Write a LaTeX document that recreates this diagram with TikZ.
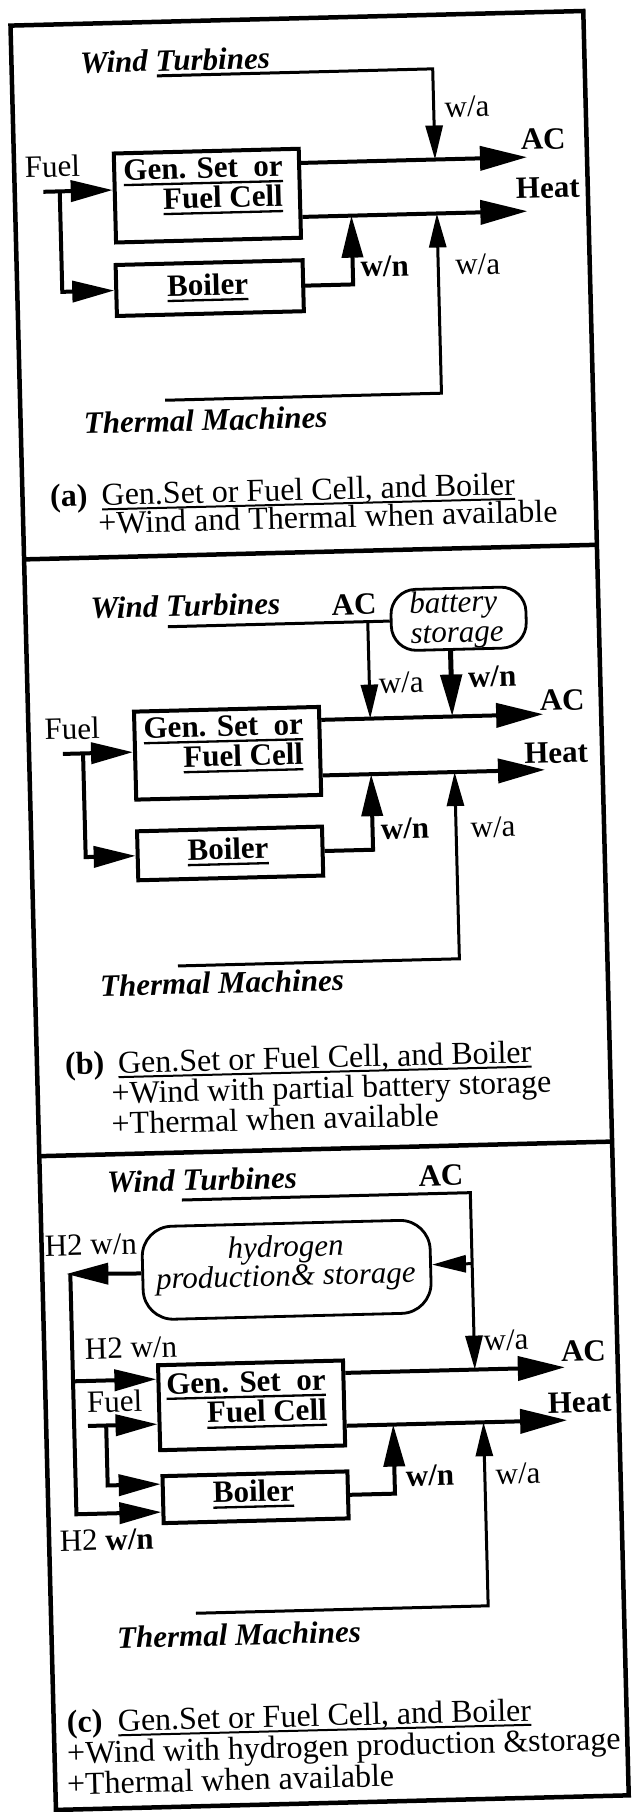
\documentclass[tikz,border=0pt]{standalone}
\usepackage{fontspec}
\setmainfont{Liberation Serif}
\usetikzlibrary{arrows.meta}
\newcommand\fs{\fontsize{31}{33}\selectfont}
\newcommand\fcap{\fontsize{32}{34}\selectfont}
\newcommand\uln[1]{\setbox0\hbox{#1}\rlap{\rule[-6pt]{\wd0}{2.3pt}}\box0}
\newcommand\ulc[1]{\setbox0\hbox{#1}\rlap{\rule[-5pt]{\wd0}{2pt}}\box0}
\newcommand\capblock[2]{\vtop{\baselineskip=#1\lineskiplimit=-100pt\lineskip=0pt #2}}
\begin{document}
\begin{tikzpicture}[x=1pt,y=-1pt,
  lbl/.style={inner sep=0pt, font=\fs},
  lblb/.style={inner sep=0pt, font=\fs\bfseries},
  ttl/.style={inner sep=0pt, font=\fs\bfseries\itshape, anchor=base west},
  captxt/.style={inner sep=0pt, font=\fcap, anchor=base west},
  bx/.style={draw, line width=4pt, inner sep=0pt, anchor=north west, minimum width=185pt},
  rbx/.style={draw, line width=2.8pt, inner sep=0pt, anchor=north west},
  frm/.style={line width=4.5pt},
  mainln/.style={line width=4pt},
  thinln/.style={line width=3pt},
  bigtip/.style={-{Triangle[length=47pt,width=24pt]}},
  midtip/.style={-{Triangle[length=42pt,width=21pt]}},
  smalltip/.style={-{Triangle[length=34pt,width=17pt]}}]
\fill[white] (0,0) rectangle (637,1812);
\useasboundingbox (0,0) rectangle (637,1812);
\begin{scope}[rotate around={1.46:(318,906)}, transform shape]
% frame
\draw[frm] (33,18) rectangle (606,1803);
\draw[frm] (33,552) -- (606,552);
\draw[frm] (33,1149) -- (606,1149);

% ---------------- (a)
\node[bx, minimum height=89pt] (GA) at (131,146.5) {};
\node[bx, minimum width=187pt, minimum height=51pt] (BA) at (130,258) {};
\node[lblb, anchor=base west] (GA1) at (142,175.5) {\uln{Gen. Set~~or}};
\node[lblb, anchor=base west] (GA2) at (181,205.5) {\uln{Fuel Cell}};
\node[lblb, anchor=base] (BAt) at (223.5,292.5) {\uln{Boiler}};
\node[ttl] (WTa) at (101.5,67.5) {Wind Turbines};
\node[ttl] (TMa) at (96,428) {Thermal Machines};
\node[lbl, anchor=base west] (FUa) at (43.6,170.2) {Fuel};
\node[lblb] (ACa) at (562.6,145.2) {AC};
\node[lblb] (HTa) at (566,194.2) {Heat};
\node[lbl] (WAa1) at (487.4,110.7) {w/a};
\node[lblb] (WNa) at (401,268) {w/n};
\node[lbl] (WAa2) at (494,268.6) {w/a};
\node[captxt] (CAa) at (60.4,500) {\capblock{28pt}{%
  \hbox{\makebox[51.6pt][l]{\bfseries (a)}\ulc{Gen.Set or Fuel Cell, and Boiler}}%
  \hbox{\hspace*{47.6pt}+Wind and Thermal when available}}};
\coordinate (wa0) at (178,72);
\coordinate (wa1) at (454,72);
\coordinate (acA) at (546,162.7);
\coordinate (htA) at (545,216.7);
\coordinate (fuA) at (61.6,185);
\coordinate (fbA) at (78,185);
\coordinate (boA) at (369,216.7);
\coordinate (thA0) at (178,396.5);
\coordinate (thA1) at (454.5,216.7);
\draw[mainln,bigtip] (GA.east |- acA) -- (acA);
\draw[mainln,bigtip] (GA.east |- htA) -- (htA);
\draw[thinln,smalltip] (wa0) -- (wa1) -- (wa1 |- acA);
\draw[mainln,midtip] (fuA) -- (fuA -| GA.west);
\draw[mainln,midtip] (fbA) |- (BA.west);
\draw[mainln,midtip] (BA.east) -| (boA);
\draw[thinln,smalltip] (thA0) -| (thA1);

% ---------------- (b)
\node[bx, minimum height=88pt] (GB) at (137,705) {};
\node[bx, minimum height=49pt] (BB) at (137,824.7) {};
\node[rbx, rounded corners=25pt, minimum width=135pt, minimum height=61pt] (BAT) at (397,590.5) {};
\node[lblb, anchor=base west] (GB1) at (148,734) {\uln{Gen. Set~~or}};
\node[lblb, anchor=base west] (GB2) at (187,764) {\uln{Fuel Cell}};
\node[lblb, anchor=base] (BBt) at (229.5,857) {\uln{Boiler}};
\node[lbl, font=\fs\itshape, anchor=base] (BATt1) at (461,615.8) {battery};
\node[lbl, font=\fs\itshape, anchor=base] (BATt2) at (464,645.8) {storage};
\node[ttl] (WTb) at (98,613) {Wind Turbines};
\node[ttl] (TMb) at (98,991) {Thermal Machines};
\node[lblb] (ACb0) at (361.7,605.4) {AC};
\node[lbl, anchor=base west] (FUb) at (49,733) {Fuel};
\node[lblb] (ACb) at (567.3,706.2) {AC};
\node[lblb] (HTb) at (560,759) {Heat};
\node[lbl] (WAb1) at (406.8,684.7) {w/a};
\node[lblb] (WNb1) at (498,681) {w/n};
\node[lblb] (WNb2) at (407,831) {w/n};
\node[lbl] (WAb2) at (495,831.5) {w/a};
\node[captxt] (CAb) at (61,1068) {\capblock{30.35pt}{%
  \hbox{\makebox[53pt][l]{\bfseries (b)}\ulc{Gen.Set or Fuel Cell, and Boiler}}%
  \hbox{\hspace*{45.7pt}+Wind with partial battery storage}%
  \hbox{\hspace*{45pt}+Thermal when available}}};
\coordinate (wb0) at (175,623);
\coordinate (wb1) at (375,623);
\coordinate (acB) at (548,720);
\coordinate (htB) at (548.4,775.6);
\coordinate (wnB) at (457,720);
\coordinate (fuB) at (66.9,747.5);
\coordinate (fbB) at (87,747.5);
\coordinate (boB) at (374.5,775.6);
\coordinate (thB0) at (176.5,962.4);
\coordinate (thB1) at (458,775.6);
\draw[thinln] (wb0) -- (wb0 -| BAT.west);
\draw[thinln,smalltip] (wb1) -- (wb1 |- acB);
\draw[line width=5pt,midtip] (BAT.south -| wnB) -- (wnB);
\draw[mainln,bigtip] (GB.east |- acB) -- (acB);
\draw[mainln,bigtip] (GB.east |- htB) -- (htB);
\draw[mainln,midtip] (fuB) -- (fuB -| GB.west);
\draw[mainln,midtip] (fbB) |- (BB.west);
\draw[mainln,midtip] (BB.east) -| (boB);
\draw[thinln,smalltip] (thB0) -| (thB1);

% ---------------- (c)
\node[rbx, rounded corners=30pt, minimum width=288pt, minimum height=93pt] (HB) at (132,1221) {};
\node[bx, minimum height=85pt] (GC) at (144.4,1359) {};
\node[bx, minimum height=47pt] (BC) at (146,1470) {};
\node[lblb, anchor=base west] (GC1) at (154,1390) {\uln{Gen. Set~~or}};
\node[lblb, anchor=base west] (GC2) at (194,1420) {\uln{Fuel Cell}};
\node[lblb, anchor=base] (BCt) at (238.5,1500) {\uln{Boiler}};
\node[lbl, font=\fs\itshape, anchor=base] (HBt1) at (277,1256) {hydrogen};
\node[lbl, font=\fs\itshape, anchor=base] (HBt2) at (276.5,1285) {production\& storage};
\node[ttl] (WTc) at (100,1187.4) {Wind Turbines};
\node[ttl] (TMc) at (98.4,1643) {Thermal Machines};
\node[lblb] (ACc0) at (434,1178.7) {AC};
\node[lbl, anchor=base west] (H2a) at (36,1249) {H2 w/n};
\node[lbl, anchor=base west] (H2b) at (73.5,1353) {H2 w/n};
\node[lbl, anchor=base west] (FUc) at (74.3,1406.5) {Fuel};
\node[lbl, anchor=base west] (H2c) at (43.5,1544.6) {H2 \textbf{w/n}};
\node[lblb] (ACc) at (572,1357.8) {AC};
\node[lblb] (HTc) at (567,1408.8) {Heat};
\node[lbl] (WAc1) at (495,1344.8) {w/a};
\node[lblb] (WNc) at (415.5,1478.5) {w/n};
\node[lbl] (WAc2) at (503.6,1478.4) {w/a};
\node[captxt] (CAc) at (46,1726) {\capblock{31pt}{%
  \hbox{\makebox[51pt][l]{\bfseries (c)}\ulc{Gen.Set or Fuel Cell, and Boiler}}%
  \hbox{\hspace*{-0.5pt}+Wind with hydrogen production \&storage}%
  \hbox{\hspace*{-1.5pt}+Thermal when available}}};
\coordinate (wc0) at (174.5,1196.5);
\coordinate (wc1) at (463,1196.5);
\coordinate (wc3) at (463,1267.5);
\coordinate (acC) at (553,1373.5);
\coordinate (htC) at (554,1426.4);
\coordinate (h2a) at (57,1267.5);
\coordinate (h2v) at (61,1267.5);
\coordinate (h2b) at (61,1375);
\coordinate (h2c) at (61,1508);
\coordinate (fuC) at (74.8,1420);
\coordinate (fbC) at (93,1420);
\coordinate (fbC2) at (93,1480);
\coordinate (boC) at (380,1426.4);
\coordinate (thC0) at (178,1610);
\coordinate (thC1) at (470.3,1426.4);
\draw[thinln,smalltip] (wc0) -- (wc1) -- (wc1 |- acC);
\draw[thinln,smalltip] (wc3) -- (wc3 -| HB.east);
\draw[mainln,midtip] (HB.west) -- (h2a);
\draw[mainln,midtip] (h2v) -- (h2c) -- (h2c -| BC.west);
\draw[mainln,midtip] (h2b) -- (h2b -| GC.west);
\draw[mainln,midtip] (fuC) -- (fuC -| GC.west);
\draw[mainln,midtip] (fbC) -- (fbC2) -- (fbC2 -| BC.west);
\draw[mainln,bigtip] (GC.east |- acC) -- (acC);
\draw[mainln,bigtip] (GC.east |- htC) -- (htC);
\draw[mainln,midtip] (BC.east) -| (boC);
\draw[thinln,smalltip] (thC0) -| (thC1);
\end{scope}
\end{tikzpicture}
\end{document}
